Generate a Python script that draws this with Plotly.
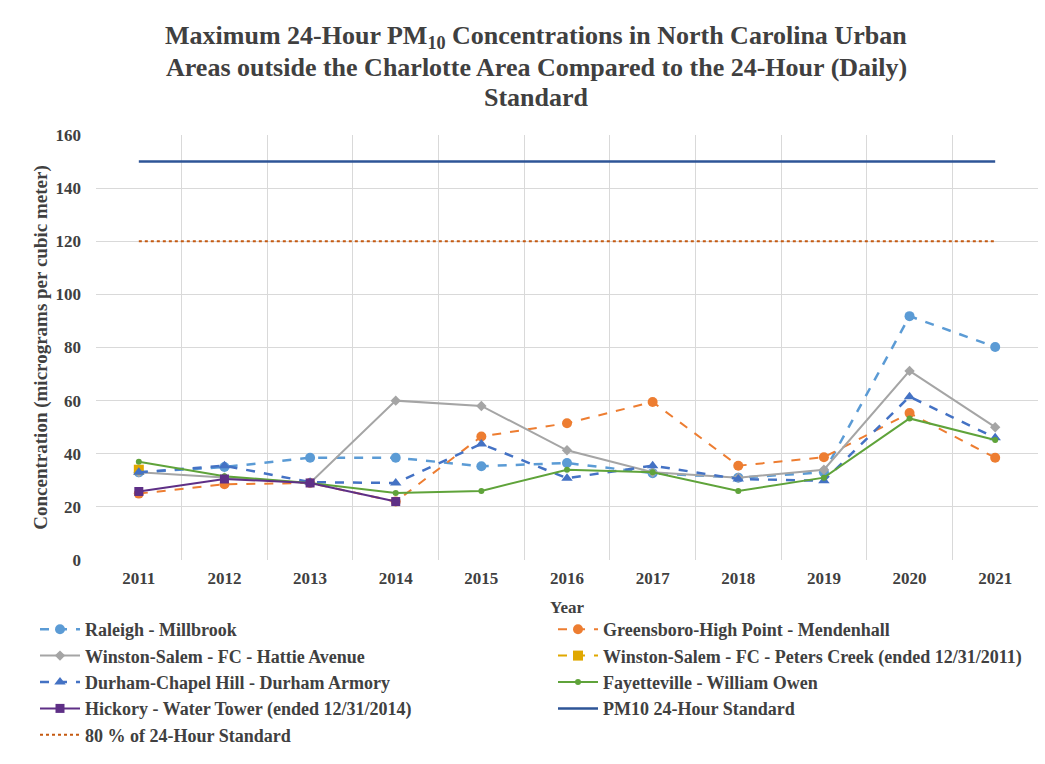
import plotly.graph_objects as go

years = [2011, 2012, 2013, 2014, 2015, 2016, 2017, 2018, 2019, 2020, 2021]
raleigh = [33, 35, 38.5, 38.5, 35.3, 36.5, 32.7, 31, 33, 91.8, 80.2]
greensboro = [25, 28.5, 29, 22, 46.5, 51.5, 59.5, 35.5, 38.7, 55.3, 38.5]
ws_hattie = [33, 31, 29, 60, 58, 41.3, 33, 31, 34, 71.2, 50]
ws_peters = [34, None, None, None, None, None, None, None, None, None, None]
durham = [33, 35.5, 29.3, 29, 43.7, 30.8, 35.5, 30.5, 29.8, 61.5, 46]
fayetteville = [37, 31.5, 29, 25.2, 26, 34, 33, 26, 31, 53.3, 45.2]
hickory = [25.8, 30.5, 29, 22, None, None, None, None, None, None, None]
standard = [150] * len(years)
standard80 = [120] * len(years)

names = [
    "Raleigh - Millbrook",
    "Greensboro-High Point - Mendenhall",
    "Winston-Salem - FC - Hattie Avenue",
    "Winston-Salem - FC - Peters Creek (ended 12/31/2011)",
    "Durham-Chapel Hill - Durham Armory",
    "Fayetteville - William Owen",
    "Hickory - Water Tower (ended 12/31/2014)",
    "PM10 24-Hour Standard",
    "80 % of 24-Hour Standard",
]
title_lines = [
    "Maximum 24-Hour PM<sub>10</sub> Concentrations in North Carolina Urban",
    "Areas outside the Charlotte Area Compared to the 24-Hour (Daily)",
    "Standard",
]

SERIF = "Liberation Serif"
TXT = "#404040"

fig = go.Figure()
specs = [
    (raleigh, names[0], "#5B9BD5", "dash", 2.5, "circle", 10),
    (greensboro, names[1], "#ED7D31", "dash", 2, "circle", 10),
    (ws_hattie, names[2], "#A5A5A5", "solid", 2, "diamond", 8),
    (ws_peters, names[3], "#E0A800", "dash", 2, "square", 10),
    (durham, names[4], "#4472C4", "dash", 2.5, "triangle-up", 10),
    (fayetteville, names[5], "#5FA33A", "solid", 2, "circle", 6),
    (hickory, names[6], "#5E2F86", "solid", 2, "square", 9),
]
for vals, nm, col, dash, w, sym, sz in specs:
    fig.add_trace(go.Scatter(
        x=years, y=vals, name="<b>" + nm + "</b>", mode="lines+markers",
        line=dict(color=col, dash=dash, width=w),
        marker=dict(color=col, symbol=sym, size=sz),
        connectgaps=False,
    ))
fig.add_trace(go.Scatter(x=years, y=standard, name="<b>" + names[7] + "</b>", mode="lines",
                         line=dict(color="#2E5597", width=2.5)))
fig.add_trace(go.Scatter(x=years, y=standard80, name="<b>" + names[8] + "</b>", mode="lines",
                         line=dict(color="#C55A11", width=2, dash="dot")))

title_y = [37, 67, 97]
annotations = []
for txt, yy in zip(title_lines, title_y):
    annotations.append(dict(
        text="<b>" + txt + "</b>", showarrow=False,
        xref="paper", yref="paper",
        x=(536 - 96) / 942, xanchor="center",
        y=(560 - yy) / 425, yanchor="middle",
        font=dict(family=SERIF, size=26, color=TXT),
    ))

fig.update_layout(
    width=1045, height=764,
    paper_bgcolor="white", plot_bgcolor="white",
    margin=dict(l=96, r=7, t=135, b=204, autoexpand=False),
    font=dict(family=SERIF, color=TXT),
    annotations=annotations,
    showlegend=True,
    legend=dict(
        orientation="h", x=(35 - 96) / 942, xanchor="left",
        y=-(611 - 560) / 425, yanchor="top",
        entrywidth=463, entrywidthmode="pixels",
        font=dict(family=SERIF, size=18, color=TXT),
        traceorder="normal", itemwidth=40,
    ),
)
fig.update_xaxes(
    range=[2010.5, 2021.5], tickvals=years, ticktext=["<b>%d</b>" % y for y in years],
    showgrid=False, zeroline=False, showline=False, ticks="",
    tickfont=dict(family=SERIF, size=17, color=TXT), ticklabelstandoff=6,
    minor=dict(tick0=2010.5, dtick=1, showgrid=True, gridcolor="#D9D9D9", gridwidth=1),
    title=dict(text="<b>Year</b>", font=dict(family=SERIF, size=17, color=TXT), standoff=14),
)
fig.update_yaxes(
    range=[0, 160], dtick=20, showgrid=True, gridcolor="#D9D9D9", gridwidth=1,
    zeroline=False, showline=False, ticks="",
    tickfont=dict(family=SERIF, size=17, color=TXT), ticklabelstandoff=14,
    tickprefix="<b>", ticksuffix="</b>",
    title=dict(text="<b>Concentration (micrograms per cubic meter)</b>",
               font=dict(family=SERIF, size=19, color=TXT), standoff=2),
)

fig.write_html("out.html")
